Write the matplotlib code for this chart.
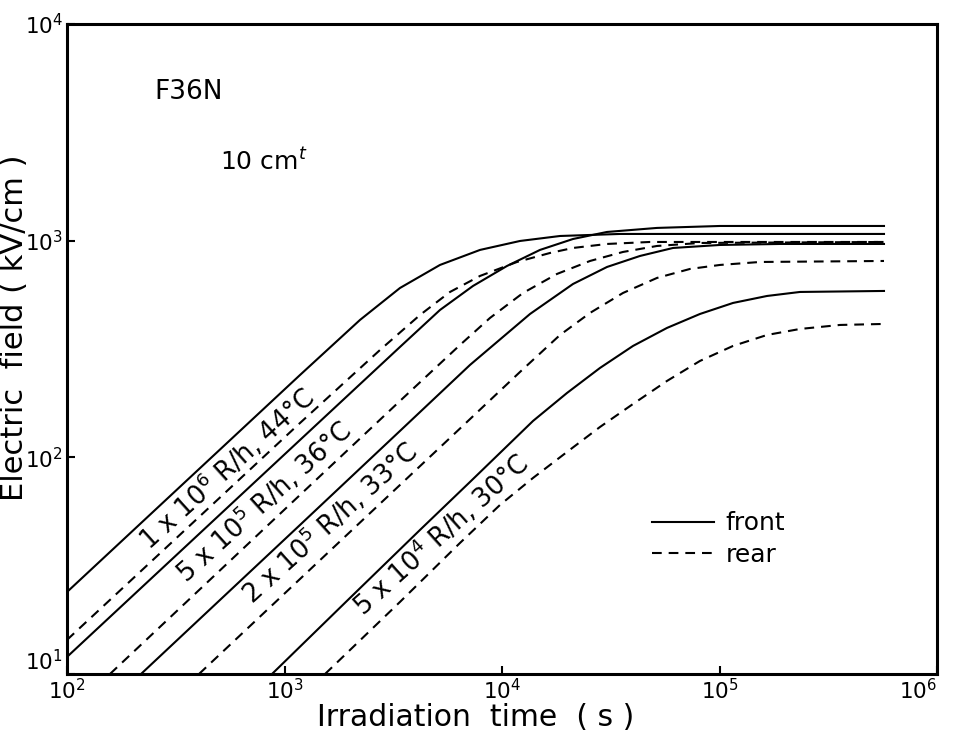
import matplotlib.pyplot as plt
from matplotlib.lines import Line2D

plt.rcParams['font.family'] = 'DejaVu Sans'
plt.rcParams['mathtext.fontset'] = 'dejavusans'
plt.rcParams['lines.scale_dashes'] = False

# values (time in s, field in kV/cm)
t_a_front = [100, 1179, 2224, 3396, 5187, 7924, 12100, 18484, 34870, 570500]
e_a_front = [23.9, 240.0, 430.7, 604.8, 772.6, 906.3, 996.8, 1051, 1074, 1074]

t_a_rear = [100, 1179, 2749, 4198, 5767, 7924, 11722, 16620, 21207, 30400, 47910, 570500]
e_a_rear = [14.37, 144.1, 313.0, 454.0, 579.8, 687.4, 797.4, 877.4, 925.4, 965.6, 986.3, 986.3]

t_b_front = [100, 1179, 3396, 5187, 7357, 10544, 14950, 21207, 30400, 51590, 100530, 570500]
e_b_front = [11.99, 120.3, 323.2, 478.8, 618.0, 764.3, 906.3, 1018, 1097, 1145, 1169, 1169]

t_b_rear = [157.6, 1179, 3396, 6412, 8807, 12495, 17900, 25390, 36000, 51590, 81340, 570500]
e_b_rear = [10.0, 67.07, 182.1, 330.1, 439.9, 573.6, 702.1, 805.9, 887.0, 945.2, 975.9, 986.3]

t_c_front = [218.9, 1179, 3396, 7128, 13455, 21207, 30400, 43100, 61140, 100530, 189800, 570500]
e_c_front = [10.0, 48.76, 132.4, 267.0, 458.9, 631.1, 756.2, 850.0, 925.4, 955.4, 965.6, 965.6]

t_c_rear = [404.5, 2001, 5767, 12100, 18484, 25390, 36000, 51590, 73160, 100530, 153600, 570500]
e_c_rear = [10.0, 45.26, 122.9, 247.8, 367.1, 463.9, 573.6, 672.9, 740.4, 772.6, 797.4, 805.9]

t_d_front = [876, 2001, 4198, 7128, 9790, 13888, 19905, 28225, 40030, 57360, 81340,
             115400, 165400, 234500, 570500]
e_d_front = [10.0, 22.45, 46.24, 77.00, 104.8, 147.2, 198.2, 258.6, 326.7, 395.6, 458.9,
             515.9, 555.6, 579.8, 586.0]

t_d_rear = [1536, 3396, 6412, 9790, 13888, 19905, 28225, 40030, 57360, 81340, 115400,
            165400, 234500, 358100, 570500]
e_d_rear = [10.0, 21.51, 40.27, 60.30, 80.33, 105.9, 138.1, 176.3, 225.2, 278.6, 326.7,
            367.1, 391.3, 408.3, 412.7]

fronts = [(t_a_front, e_a_front), (t_b_front, e_b_front),
          (t_c_front, e_c_front), (t_d_front, e_d_front)]
rears = [(t_a_rear, e_a_rear), (t_b_rear, e_b_rear),
         (t_c_rear, e_c_rear), (t_d_rear, e_d_rear)]

curve_labels = ['1 x 10$^{6}$ R/h, 44°C', '5 x 10$^{5}$ R/h, 36°C',
                '2 x 10$^{5}$ R/h, 33°C', '5 x 10$^{4}$ R/h, 30°C']
label_t = [540, 805, 1619, 5243]
label_e = [89.0, 62.5, 49.8, 43.8]

xticks = [1e2, 1e3, 1e4, 1e5, 1e6]
xticklabels = ['10$^{2}$', '10$^{3}$', '10$^{4}$', '10$^{5}$', '10$^{6}$']
yticks = [1e1, 1e2, 1e3, 1e4]
yticklabels = ['10$^{1}$', '10$^{2}$', '10$^{3}$', '10$^{4}$']

dash = (0, (7, 5))

fig = plt.figure(figsize=(9.57, 7.40), dpi=100)
ax = fig.add_axes([67/957, 1-674/740, 870/957, 650/740])

for t, e in fronts:
    ax.plot(t, e, color='black', lw=1.5)
for t, e in rears:
    ax.plot(t, e, color='black', lw=1.5, linestyle=dash)

ax.set_xscale('log')
ax.set_yscale('log')
ax.set_xticks(xticks)
ax.set_xticklabels(xticklabels)
ax.set_yticks(yticks)
ax.set_yticklabels(yticklabels)
ax.minorticks_off()
ax.tick_params(direction='in', length=6, width=1.5, labelsize=15.5, pad=3)
ax.xaxis.get_major_ticks()[-1].label1.set_horizontalalignment('right')
ax.yaxis.get_major_ticks()[0].label1.set_verticalalignment('bottom')
for s in ax.spines.values():
    s.set_linewidth(2.2)

for s, x, y in zip(curve_labels, label_t, label_e):
    ax.text(x, y, s, rotation=42, rotation_mode='anchor', ha='center', va='center',
            fontsize=18.5)

ax.text(0.101, 0.884, 'F36N', transform=ax.transAxes, fontsize=19)
ax.text(0.176, 0.775, '10 cm$^{t}$', transform=ax.transAxes, fontsize=18)

ax.set_xlabel('Irradiation  time  ( s )', fontsize=21.5)
ax.xaxis.set_label_coords(0.47, -0.045)
ax.set_ylabel('Electric  field ( kV/cm )', fontsize=22)
ax.yaxis.set_label_coords(-0.044, 0.532)

handles = [Line2D([], [], color='black', lw=1.5),
           Line2D([], [], color='black', lw=1.5, linestyle=dash)]
ax.legend(handles, ['front', 'rear'], loc='upper left', bbox_to_anchor=(0.672, 0.25),
          frameon=False, fontsize=18, handlelength=2.5, handletextpad=0.45,
          borderpad=0, borderaxespad=0, labelspacing=0.3)

ax.set_xlim(1e2, 1e6)
ax.set_ylim(1e1, 1e4)

fig.savefig('out.png', dpi=100)
